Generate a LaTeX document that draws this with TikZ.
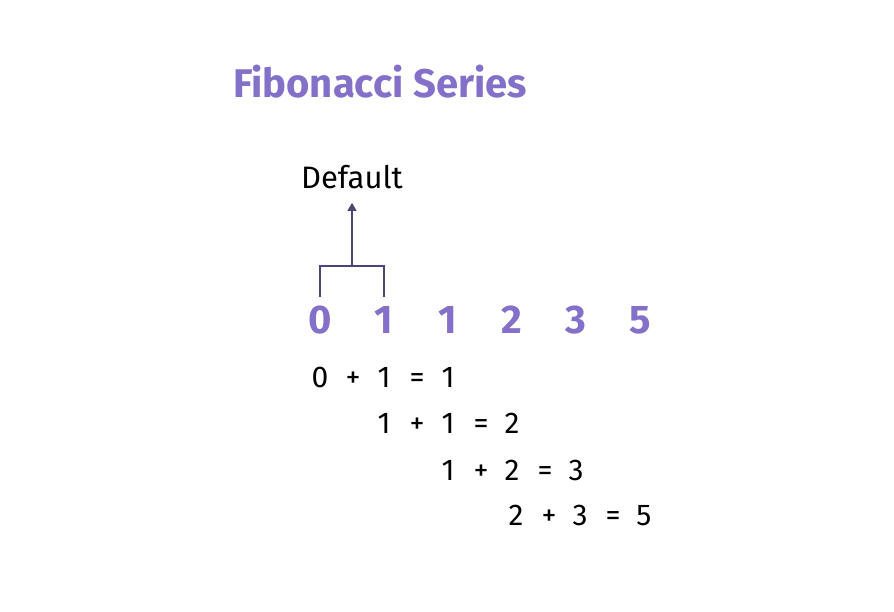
\documentclass[tikz,border=0pt]{standalone}
\usepackage{fontspec}
\setmainfont{Fira Sans}
\usetikzlibrary{arrows.meta}
\definecolor{fibpurple}{HTML}{8470C8}
\definecolor{fibline}{HTML}{4E4375}

\begin{document}
\begin{tikzpicture}[x=1pt,y=-1pt,
  seq/.style={anchor=base,text=fibpurple,font=\fontsize{40}{44}\selectfont\bfseries},
  sumtxt/.style={anchor=base,font=\fontsize{30}{34}\selectfont},
  link/.style={fibline,line width=1.6pt}]
\useasboundingbox (0,0) rectangle (894,611);
\node[seq] (title) at (380,97) {Fibonacci Series};
\node[sumtxt,font=\fontsize{31}{34}\selectfont] (default) at (352,188) {Default};
% sequence
\foreach \v [count=\i] in {0,1,1,2,3,5}
\node[seq] (n\i) at ({320+64*(\i-1)},333) {\v};
\coordinate (join) at (352,266);
\draw[link,shorten <=5pt,shorten >=5pt] (n1.north) |- (join) -| (n2.north);
\draw[link,shorten >=11pt,-{Triangle[width=9pt,length=8pt]}] (join) -- (default.south);
% sums
\foreach \a/\b/\c/\x/\y [count=\r] in {0/1/1/320/387,1/1/2/384/433,1/2/3/448/480,2/3/5/516/525} {
  \node[sumtxt] (s\r a) at (\x,\y) {\a};
  \node[sumtxt] (s\r p) at (\x+33,\y) {+};
  \node[sumtxt] (s\r b) at (\x+64,\y) {\b};
  \node[sumtxt] (s\r e) at (\x+97,\y) {=};
  \node[sumtxt] (s\r c) at (\x+128,\y) {\c};
}
\end{tikzpicture}
\end{document}
